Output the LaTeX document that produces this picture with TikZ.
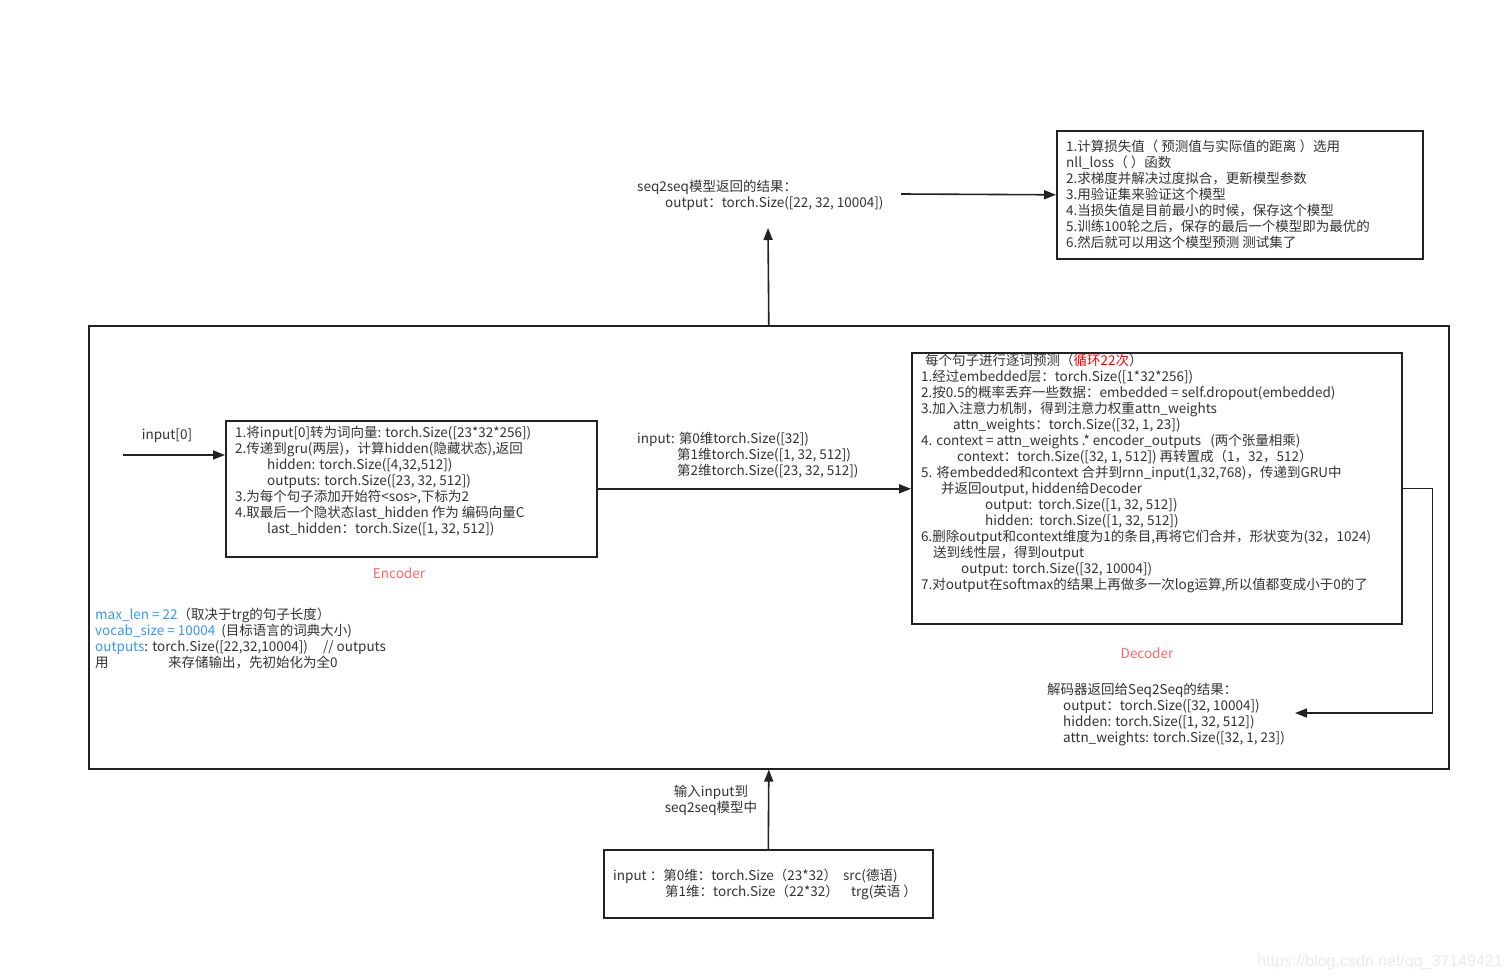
\documentclass[tikz,border=0pt]{standalone}
\usepackage{fontspec}
\setmainfont{Noto Sans CJK SC}
\newfontfamily\wmfont{Liberation Sans}
\usetikzlibrary{arrows.meta}
\definecolor{bl}{HTML}{3399FF}
\definecolor{encred}{HTML}{FF6666}
\definecolor{ln}{HTML}{222222}
\definecolor{tx}{HTML}{333333}
\newcommand{\fst}{\rule{0pt}{13.5pt}}
\begin{document}
\begin{tikzpicture}[x=1pt,y=-1pt,
  box/.style={draw=ln,line width=1.6pt,inner sep=0pt,anchor=north west},
  tl/.style={anchor=north west,inner sep=0pt,align=left,text=tx,font=\fontsize{13.5}{16}\selectfont},
  tc/.style={inner sep=0pt,align=center,text=tx,font=\fontsize{13.5}{16}\selectfont},
  arr/.style={draw=ln,line width=1.6pt,-{Triangle[length=12pt,width=9pt]}}]
\path[use as bounding box,fill=white] (0,0) rectangle (1510,979);

% boxes
\node[box,minimum width=1360pt,minimum height=443pt] (outer) at (88,325) {};
\node[box,minimum width=366pt,minimum height=128pt] (res) at (1056,130) {};
\node[box,minimum width=371pt,minimum height=136pt] (enc) at (225,420) {};
\node[box,minimum width=490pt,minimum height=271pt] (dec) at (911,352) {};
\node[box,minimum width=329pt,minimum height=68pt] (inp) at (603,849) {};

% texts
\node[tl] (restxt) at (1066,138) {\fst 1.计算损失值（ 预测值与实际值的距离 ）选用\\
nll\_loss（ ）函数\\
2.求梯度并解决过度拟合，更新模型参数\\
3.用验证集来验证这个模型\\
4.当损失值是目前最小的时候，保存这个模型\\
5.训练100轮之后，保存的最后一个模型即为最优的\\
6.然后就可以用这个模型预测 测试集了};

\node[tl] (s2sres) at (637,178) {\fst seq2seq模型返回的结果：\\
\hspace*{28pt}output：torch.Size([22, 32, 10004])};

\node[tc] (in0) at (167,436) {input[0]};

\node[tl] (enctxt) at (235,424) {\fst 1.将input[0]转为词向量: torch.Size([23*32*256])\\
2.传递到gru(两层)，计算hidden(隐藏状态),返回\\
\hspace*{32pt}hidden: torch.Size([4,32,512])\\
\hspace*{32pt}outputs: torch.Size([23, 32, 512])\\
3.为每个句子添加开始符<sos>,下标为2\\
4.取最后一个隐状态last\_hidden 作为 编码向量C\\
\hspace*{32pt}last\_hidden：torch.Size([1, 32, 512])};

\node[tc,text=encred] (enclbl) at (399,573) {Encoder};

\node[tl] (midtxt) at (637,430) {\fst input: 第0维torch.Size([32])\\
\hspace*{40pt}第1维torch.Size([1, 32, 512])\\
\hspace*{40pt}第2维torch.Size([23, 32, 512])};

\node[tl] (dectxt) at (921,352) {\fst \hspace*{4pt}每个句子进行逐词预测（{\color{red}循环22次}）\\
1.经过embedded层：torch.Size([1*32*256])\\
2.按0.5的概率丢弃一些数据：embedded = self.dropout(embedded)\\
3.加入注意力机制，得到注意力权重attn\_weights\\
\hspace*{32pt}attn\_weights：torch.Size([32, 1, 23])\\
4. context = attn\_weights .* encoder\_outputs~~~(两个张量相乘)\\
\hspace*{36pt}context：torch.Size([32, 1, 512]) 再转置成（1，32，512）\\
5. 将embedded和context 合并到rnn\_input(1,32,768)，传递到GRU中\\
\hspace*{20pt}并返回output, hidden给Decoder\\
\hspace*{64pt}output:~~torch.Size([1, 32, 512])\\
\hspace*{64pt}hidden:~~torch.Size([1, 32, 512])\\
6.删除output和context维度为1的条目,再将它们合并，形状变为(32，1024)\\
\hspace*{12pt}送到线性层，得到output\\
\hspace*{40pt}output: torch.Size([32, 10004])\\
7.对output在softmax的结果上再做多一次log运算,所以值都变成小于0的了};

\node[tc,text=encred] (declbl) at (1147,653) {Decoder};

\node[tl] (lefttxt) at (95,606) {\fst {\color{bl}max\_len = 22}（取决于trg的句子长度）\\
{\color{bl}vocab\_size = 10004}~~(目标语言的词典大小)\\
{\color{bl}outputs}: torch.Size([22,32,10004])~~~~~// outputs\\
\makebox[73pt][l]{用}来存储输出，先初始化为全0};

\node[tl] (dectres) at (1047,681) {\fst 解码器返回给Seq2Seq的结果：\\
\hspace*{16pt}output：torch.Size([32, 10004])\\
\hspace*{16pt}hidden: torch.Size([1, 32, 512])\\
\hspace*{16pt}attn\_weights: torch.Size([32, 1, 23])};

\node[tc] (feed) at (711,800) {输入input到\\seq2seq模型中};

\node[tl] (inptxt) at (613,867) {\fst input ：第0维：torch.Size（23*32）~~src(德语)\\
\hspace*{52pt}第1维：torch.Size（22*32）~~~~trg(英语 ）};

\node[anchor=east,inner sep=0pt,text=black!8,font=\wmfont\fontsize{16}{18}\selectfont] (wm) at (1503,962) {https://blog.csdn.net/qq\_37149421};

% connectors
\coordinate (topend) at (768,228);
\coordinate (s2sout) at (901,194);
\coordinate (in0s) at (123,455);
\coordinate (dre) at (1295,713);

\draw[arr] (inp.north) -- (outer.south);
\draw[arr] (outer.north) -- (topend);
\draw[arr] (s2sout) -- (res.west);
\draw[arr] (in0s) -- (in0s -| enc.west);
\draw[arr] (enc.east) -- (enc.east -| dec.west);
\draw[arr] (dec.east) -- ++(30,0) |- (dre);
\end{tikzpicture}
\end{document}
